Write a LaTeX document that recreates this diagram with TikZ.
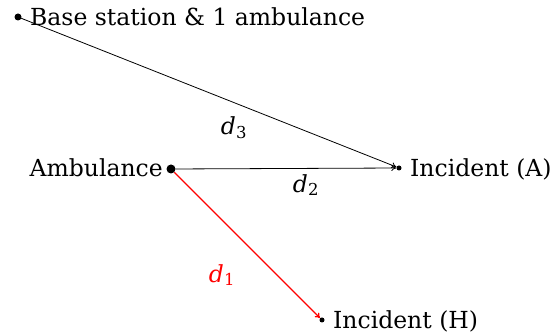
\documentclass[tikz,border=0pt]{standalone}
\usepackage{fontspec}
\setmainfont{DejaVu Serif}
\usetikzlibrary{arrows.meta}
\begin{document}
\begin{tikzpicture}[x=1pt,y=-1pt,
  bigdot/.style={circle,fill=black,inner sep=0pt,minimum size=#1},
  lbl/.style={font=\fontsize{23.5}{28}\selectfont,inner sep=0pt},
  conn/.style={-{To[length=5pt,width=6pt]},line width=0.8pt},
  dlbl/.style={font=\fontsize{23.5}{28}\selectfont,inner sep=0pt}]
\useasboundingbox (0,0) rectangle (555,336);
\node[bigdot=7pt] (base) at (18,17) {};
\node[bigdot=9pt] (amb) at (171,169) {};
\node[bigdot=5pt] (incA) at (399,168) {};
\node[bigdot=5pt] (incH) at (322,320) {};
\node[lbl,anchor=base west] (baseT) at (30,26) {Base station \& 1 ambulance};
\node[lbl,anchor=base east] (ambT) at (163,177) {Ambulance};
\node[lbl,anchor=base west] (incAT) at (410,177) {Incident (A)};
\node[lbl,anchor=base west] (incHT) at (333,329) {Incident (H)};
\draw[conn] (base.center) -- (incA);
\draw[conn] (amb) -- (incA);
\draw[conn,red,line width=1.2pt] (amb) -- (incH);
\node[dlbl] (d3) at (234,128) {\textit{d}\textsubscript{3}};
\node[dlbl] (d2) at (306,185) {\textit{d}\textsubscript{2}};
\node[dlbl,text=red] (d1) at (222,275) {\textit{d}\textsubscript{1}};
\end{tikzpicture}
\end{document}
